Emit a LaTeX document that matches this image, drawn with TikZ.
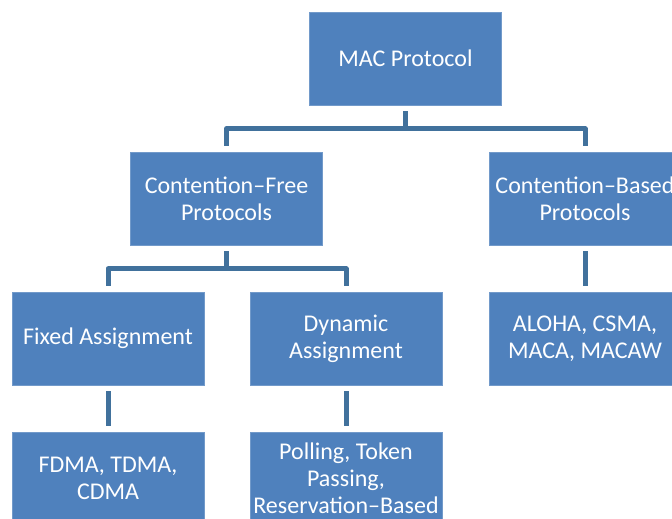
\documentclass[tikz,border=0pt]{standalone}
\usepackage{fontspec}
\setmainfont{Carlito}
\definecolor{boxblue}{HTML}{4F81BD}
\definecolor{linkblue}{HTML}{41719C}
\begin{document}
\begin{tikzpicture}[x=1pt,y=-1pt,
  box/.style={rectangle, fill=boxblue, draw=boxblue!80!white, line width=0.6pt,
    minimum width=192pt, minimum height=93pt, inner sep=2pt,
    text=white, align=center, font=\fontsize{24}{27}\selectfont},
  link/.style={draw=linkblue, line width=5pt, line join=round}]
\useasboundingbox (0,0) rectangle (672,519);
\clip (0,0) rectangle (672,519);

% boxes of the tree
\node[box] (mac) at (405.5,58.5) {MAC Protocol};
\node[box] (free) at (226.5,198.5) {Contention\textendash Free\\Protocols};
\node[box] (based) at (585,198.5) {Contention\textendash Based\\Protocols};
\node[box] (fixed) at (108,338.5) {Fixed Assignment};
\node[box] (dyn) at (346,338.5) {Dynamic\\Assignment};
\node[box] (aloha) at (585,338.5) {ALOHA, CSMA,\\MACA, MACAW};
\node[box] (fdma) at (108,478.5) {FDMA, TDMA,\\CDMA};
\node[box] (poll) at (346,478.5) {Polling, Token\\Passing,\\Reservation\textendash Based};

% elbow connectors (shifts are in page direction: negative goes down)
\coordinate (macbar) at ([yshift=-23.5pt]mac.south);
\path[link] ([yshift=-6pt]mac.south) -- (macbar);
\path[link] ([yshift=6pt]free.north) |- (macbar) -| ([yshift=6pt]based.north);

\coordinate (freebar) at ([yshift=-23.5pt]free.south);
\path[link] ([yshift=-6pt]free.south) -- (freebar);
\path[link] ([yshift=6pt]fixed.north) |- (freebar) -| ([yshift=6pt]dyn.north);

\path[link] ([yshift=-6pt]based.south) -- ([yshift=6pt]aloha.north);
\path[link] ([yshift=-6pt]fixed.south) -- ([yshift=6pt]fdma.north);
\path[link] ([yshift=-6pt]dyn.south) -- ([yshift=6pt]poll.north);
\end{tikzpicture}
\end{document}
